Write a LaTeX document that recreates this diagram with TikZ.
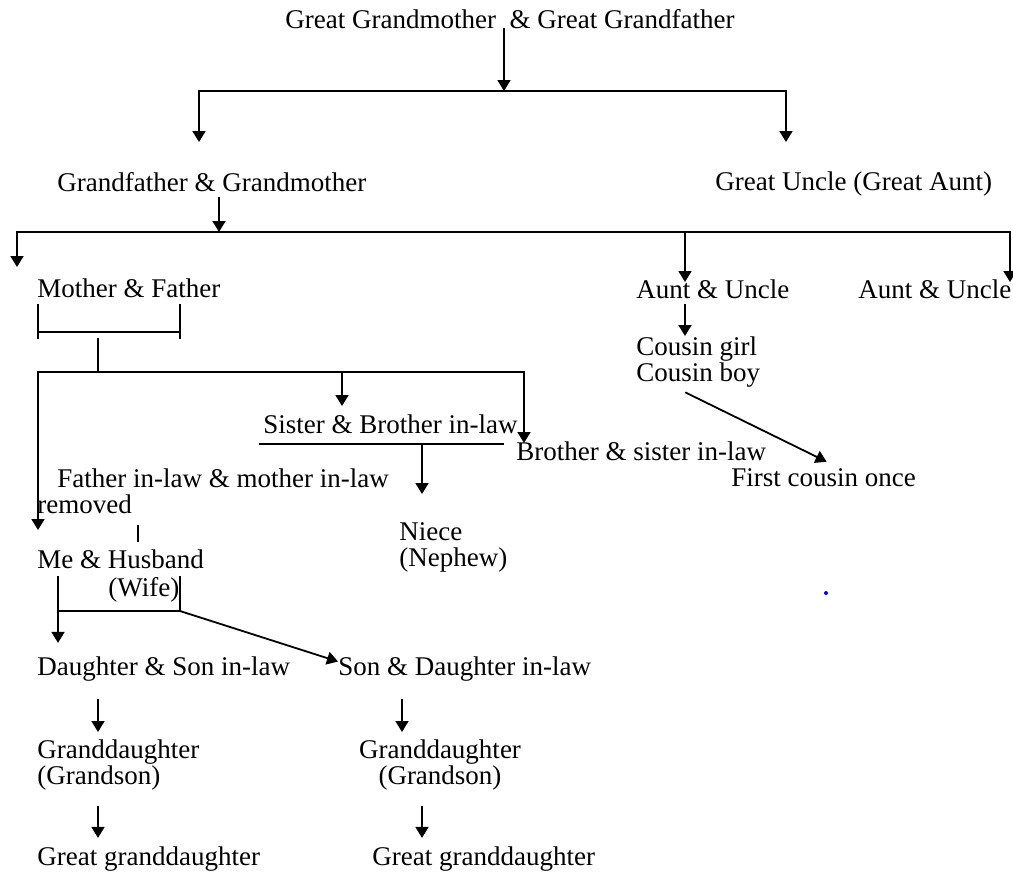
\documentclass[tikz,border=0pt]{standalone}
\usepackage{fontspec}
\setmainfont{Liberation Serif}
\usepackage{tikz}
\usetikzlibrary{arrows.meta}

\begin{document}
\begin{tikzpicture}[
    x=0.5pt, y=-0.5pt,
    lbl/.style={inner sep=0pt, font=\fontsize{13.5pt}{13pt}\selectfont},
    link/.style={line width=0.9pt},
    arrow/.style={-{Triangle[width=6.5pt,length=5.5pt]}, line width=0.9pt}
]
    \useasboundingbox (0,0) rectangle (1013,873);

    \node[lbl, anchor=base west] (ggp) at (285,28) {Great Grandmother\ \ \& Great Grandfather};
    \node[lbl, anchor=base west] (gp) at (57,191) {Grandfather \& Grandmother};
    \node[lbl, anchor=base west] (gu) at (715,190) {Great Uncle (Great Aunt)};

    \node[lbl, anchor=base west] (mf) at (37,297) {Mother \& Father};
    \node[lbl, anchor=base west] (au1) at (636,298) {Aunt \& Uncle};
    \node[lbl, anchor=base west] (au2) at (858,298) {Aunt \& Uncle};
    \node[lbl, anchor=north west, align=left] (cous) at (636,336) {Cousin girl\\Cousin boy};

    \node[lbl, anchor=base west] (sb) at (263,433) {Sister \& Brother in-law};
    \node[lbl, anchor=base west] (bs) at (516,460) {Brother \& sister in-law};
    \node[lbl, anchor=north west, align=left] (fm) at (37,468) {\hspace*{10pt}Father in-law \& mother in-law\\removed};
    \node[lbl, anchor=base west] (fc) at (731,486) {First cousin once};
    \node[lbl, anchor=north west, align=left] (niece) at (399,522) {Niece\\(Nephew)};
    \node[lbl, anchor=north west, align=left] (me) at (37,549) {Me \& Husband\\[1pt]\hspace*{35.5pt}(Wife)};

    \node[lbl, anchor=base west] (dsl) at (37,675) {Daughter \& Son in-law};
    \node[lbl, anchor=base west] (sdl) at (338,675) {Son \& Daughter in-law};
    \node[lbl, anchor=north west, align=left] (gd1) at (37,739) {Granddaughter\\(Grandson)};
    \node[lbl, anchor=north, align=center] (gd2) at (440,739) {Granddaughter\\(Grandson)};
    \node[lbl, anchor=base west] (ggd1) at (37,865) {Great granddaughter};
    \node[lbl, anchor=base west] (ggd2) at (372,865) {Great granddaughter};

    \coordinate (top) at (504,91);
    \coordinate (gpIn) at (199,142);
    \coordinate (guIn) at (786,142);
    \draw[arrow] (ggp.base -| top) -- (top);
    \draw[arrow] (top) -| (gpIn);
    \draw[arrow] (top) -| (guIn);

    \coordinate (mid) at (219,232);
    \coordinate (mfIn) at (17,267);
    \coordinate (auIn) at (685,282);
    \coordinate (au2In) at (1010,282);
    \draw[arrow, shorten <=3pt] (gp.base -| mid) -- (mid);
    \draw[arrow] (mid) -| (mfIn);
    \draw[arrow] (mid) -| (auIn);
    \draw[arrow] (mid) -| (au2In);
    \draw[arrow, shorten <=3pt] (au1.base -| auIn) -- (cous.north -| auIn);
    \draw[arrow] ([shift={(-6.5pt,-2.5pt)}]cous.south) -- ([shift={(1.5pt,3pt)}]fc.north);

    \coordinate (mfl) at (38,304);
    \coordinate (mfr) at (180,304);
    \draw[link] (mfl) -- ++(0,35) (mfr) -- ++(0,35);
    \draw[link] (mfl) ++(0,28) -- ++(142,0);

    \coordinate (sib) at (98,372);
    \coordinate (meIn) at (38,530);
    \coordinate (sbIn) at (342,406);
    \coordinate (bsIn) at (524,443);
    \draw[link] (sib) -- ++(0,-34);
    \draw[arrow] (sib) -| (meIn);
    \draw[arrow] (sib) -| (sbIn);
    \draw[arrow] (sib) -| (bsIn);

    \coordinate (sbl) at (259,444);
    \coordinate (sbr) at (504,444);
    \coordinate (nIn) at (422,494);
    \draw[link] (sbl) -- (sbr);
    \draw[arrow] (sbl -| nIn) -- (nIn);

    \coordinate (wed) at (138,0);
    \draw[link, shorten <=5.5pt, shorten >=3.5pt] (fm.south -| wed) -- (me.north -| wed);

    \coordinate (ml) at (58,576);
    \coordinate (mr) at (180,576);
    \draw[arrow, shorten >=6.5pt] (ml) -- (dsl.north -| ml);
    \draw[link] (mr) -- ++(0,35) -- ++(-122,0);
    \draw[arrow] (mr) ++(0,35) -- ([yshift=3.5pt]sdl.west);

    \coordinate (colA) at (98,0);
    \coordinate (colB) at (402,0);
    \coordinate (colC) at (422,0);
    \draw[arrow, shorten <=9pt, shorten >=3.5pt] (dsl.south -| colA) -- (gd1.north -| colA);
    \draw[arrow, shorten <=9pt, shorten >=3.5pt] (sdl.south -| colB) -- (gd2.north -| colB);
    \draw[arrow, shorten <=8pt, shorten >=4pt] (gd1.south -| colA) -- (ggd1.north -| colA);
    \draw[arrow, shorten <=8pt, shorten >=4pt] (gd2.south -| colC) -- (ggd2.north -| colC);

    \fill[blue] (826,593) circle (1pt);
\end{tikzpicture}
\end{document}
